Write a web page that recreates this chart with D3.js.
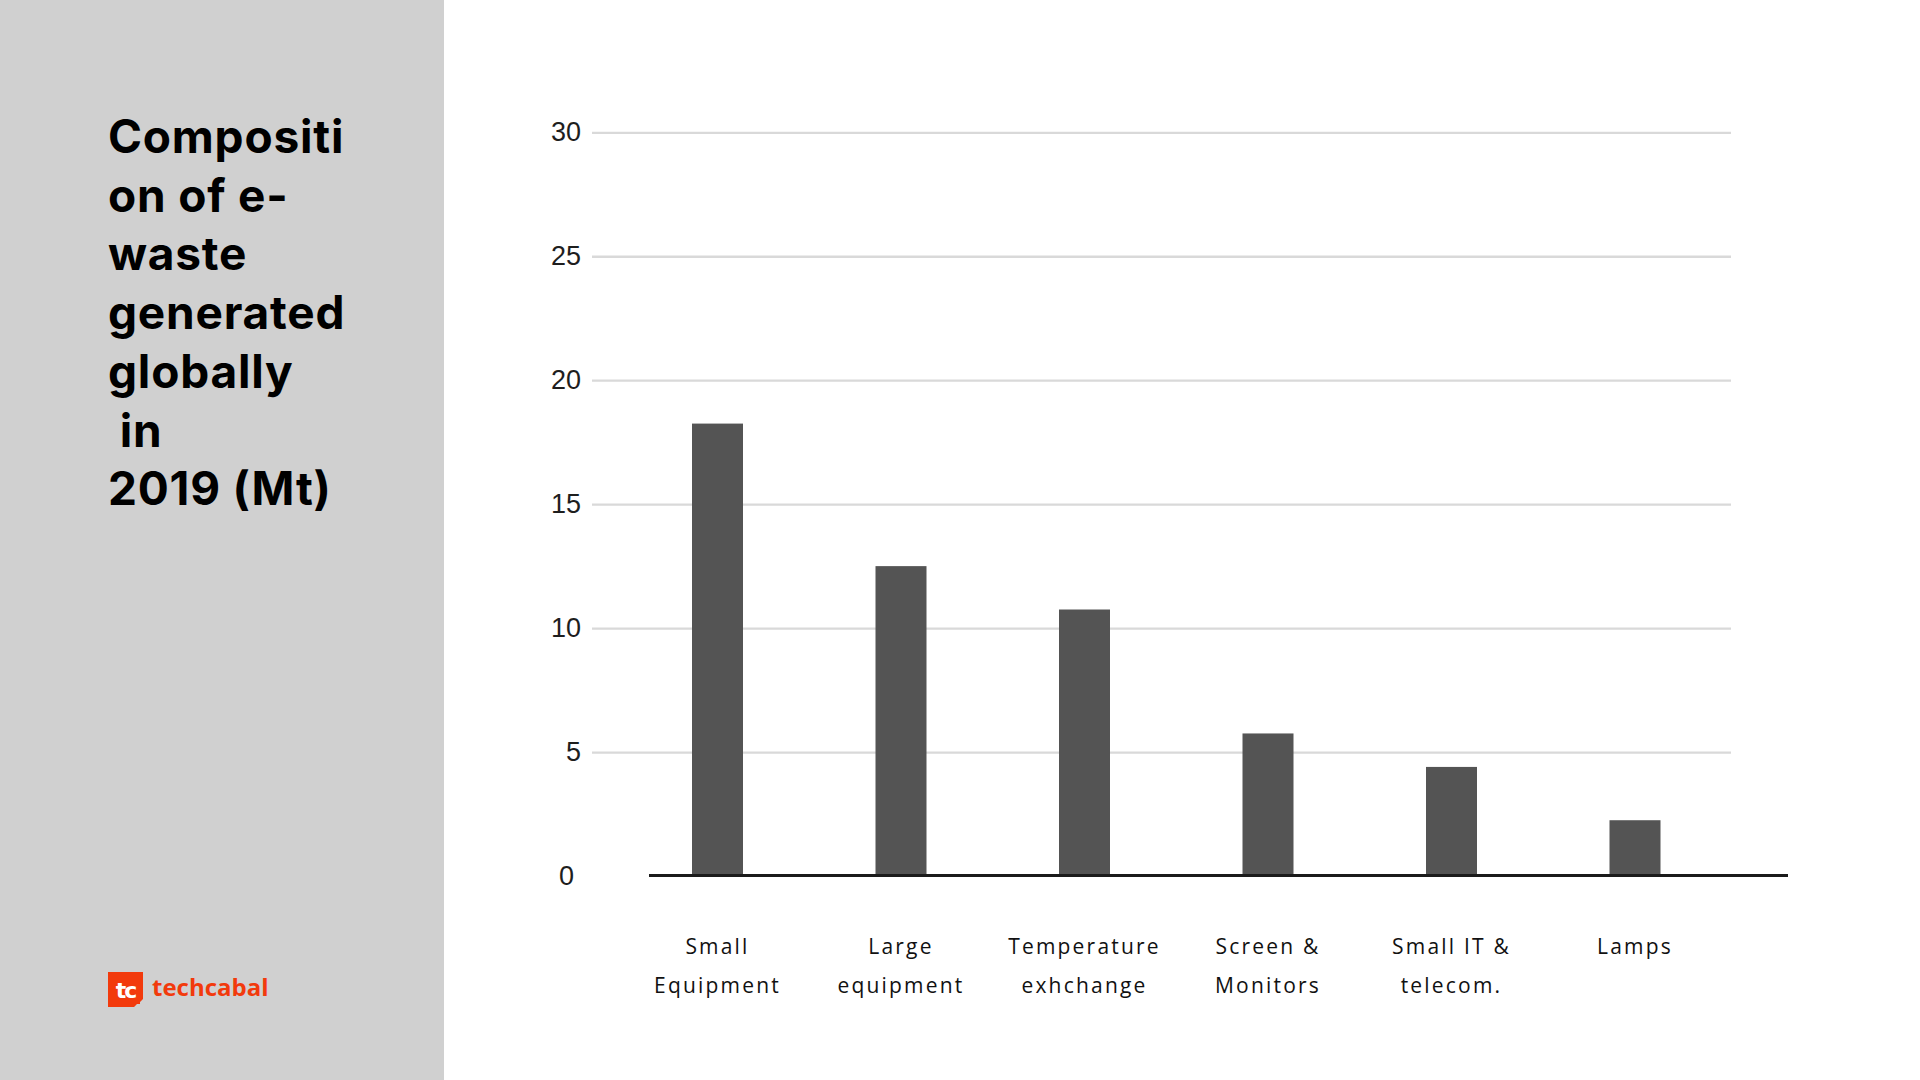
<!DOCTYPE html>
<html lang="en">

<head>
  <meta charset="UTF-8">
  <title>Composition of e-waste</title>
  <script src="https://d3js.org/d3.v7.min.js"></script>
  <style>
    body { margin: 0; background: #fff; }
  </style>
</head>

<body>
  <script>
    // chart data
    const categories = [
      ["Small", "Equipment"],
      ["Large", "equipment"],
      ["Temperature", "exhchange"],
      ["Screen &", "Monitors"],
      ["Small IT &", "telecom."],
      ["Lamps"]
    ];
    const values = [18.25, 12.5, 10.75, 5.75, 4.4, 2.25];
    const yTicks = [0, 5, 10, 15, 20, 25, 30];
    const titleLines = ["Compositi", "on of e-", "waste", "generated", "globally", " in", "2019 (Mt)"];

    const W = 1920, H = 1080;
    const barW = 51;

    const svg = d3.select("body")
      .append("svg")
      .attr("width", W)
      .attr("height", H);

    // grey side panel
    svg.append("rect")
      .attr("width", 444)
      .attr("height", H)
      .attr("fill", "#d0d0d0");

    // title
    svg.append("text")
      .attr("x", 108)
      .attr("y", 153)
      .attr("font-family", "Inter, 'Noto Sans', sans-serif")
      .attr("font-weight", 700)
      .attr("font-size", 46)
      .attr("letter-spacing", 0.8)
      .attr("fill", "#000")
      .attr("xml:space", "preserve")
      .selectAll("tspan")
      .data(titleLines)
      .join("tspan")
      .attr("x", 108)
      .attr("dy", (d, i) => i === 0 ? 0 : 58.7)
      .text(d => d);

    // scales
    const keys = categories.map(d => d.join(" "));
    const x = d3.scalePoint()
      .domain(keys)
      .range([717.5, 1635]);

    const y = d3.scaleLinear()
      .domain([0, 30])
      .range([876, 132.3]);

    // gridlines + y labels
    const grid = svg.append("g")
      .attr("transform", "translate(592,0)")
      .call(d3.axisLeft(y)
        .tickValues(yTicks.filter(d => d > 0))
        .tickSize(-(1731 - 592))
        .tickPadding(11)
        .tickFormat(d3.format("d")));
    grid.select(".domain").remove();
    grid.selectAll(".tick line")
      .attr("stroke", "#d9d9d9")
      .attr("stroke-width", 2.3);
    grid.selectAll(".tick text")
      .attr("font-family", "'Liberation Sans', Arial, sans-serif")
      .attr("font-size", 27)
      .attr("fill", "#1e1e1e");

    // zero label
    svg.append("text")
      .attr("x", 574)
      .attr("y", y(yTicks[0]))
      .attr("dy", "0.32em")
      .attr("text-anchor", "end")
      .attr("font-family", "'Liberation Sans', Arial, sans-serif")
      .attr("font-size", 27)
      .attr("fill", "#1e1e1e")
      .text(yTicks[0]);

    // bars
    svg.append("g")
      .selectAll("rect")
      .data(values)
      .join("rect")
      .attr("x", (d, i) => x(keys[i]) - barW / 2)
      .attr("y", d => y(d))
      .attr("width", barW)
      .attr("height", d => y(0) - y(d))
      .attr("fill", "#545454");

    // baseline
    svg.append("line")
      .attr("x1", 649)
      .attr("x2", 1788)
      .attr("y1", y(0) - 0.6)
      .attr("y2", y(0) - 0.6)
      .attr("stroke", "#1b1b1b")
      .attr("stroke-width", 3);

    // category labels
    const labels = svg.append("g")
      .selectAll("text")
      .data(categories)
      .join("text")
      .attr("x", (d, i) => x(keys[i]))
      .attr("y", 954)
      .attr("text-anchor", "middle")
      .attr("font-family", "'Open Sans', sans-serif")
      .attr("font-size", 21)
      .attr("letter-spacing", 2.2)
      .attr("fill", "#111");
    labels.selectAll("tspan")
      .data((d, i) => d.map(t => ({ t, cx: x(keys[i]) })))
      .join("tspan")
      .attr("x", d => d.cx)
      .attr("dy", (d, i) => i === 0 ? 0 : 38.5)
      .text(d => d.t);

    // techcabal logo
    const logo = svg.append("g");
    logo.append("path")
      .attr("d", "M108,972 H143 V999 L140,1002 V1004 H137 L134,1007 H108 Z")
      .attr("fill", "#f23a0c");
    logo.append("text")
      .attr("x", 125.5)
      .attr("y", 998)
      .attr("text-anchor", "middle")
      .attr("font-family", "'DejaVu Sans', sans-serif")
      .attr("font-weight", 700)
      .attr("font-size", 22)
      .attr("letter-spacing", -2)
      .attr("fill", "#fff")
      .text("tc");
    logo.append("text")
      .attr("x", 152)
      .attr("y", 996)
      .attr("font-family", "'Open Sans', sans-serif")
      .attr("font-weight", 700)
      .attr("font-size", 24)
      .attr("fill", "#f23a0c")
      .text("techcabal");
  </script>
</body>

</html>
